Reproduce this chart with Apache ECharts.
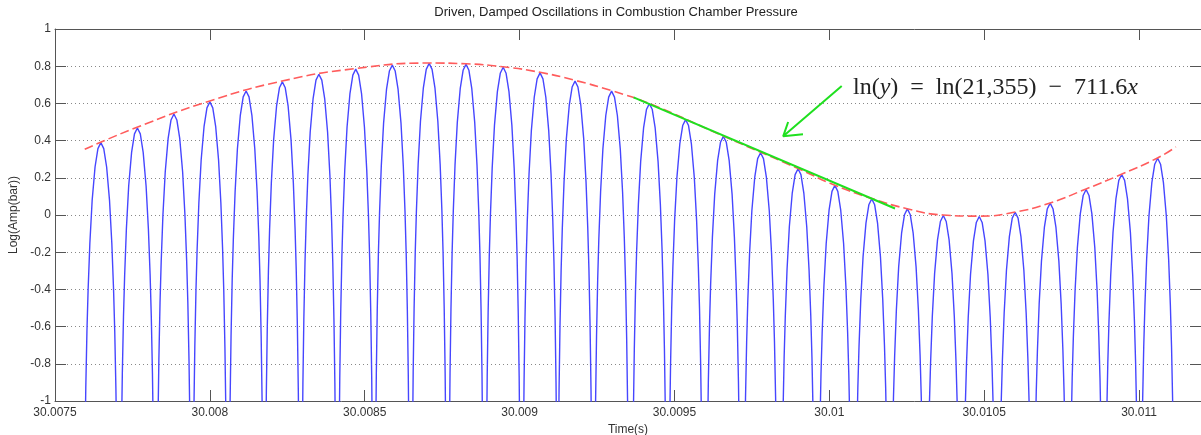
<!DOCTYPE html>
<html>
<head>
<meta charset="utf-8">
<script src="https://cdn.jsdelivr.net/npm/echarts@6/dist/echarts.min.js"></script>
<style>
  html, body { margin: 0; padding: 0; background: #fff; }
  #chart { width: 1201px; height: 435px; }
</style>
</head>
<body>
<div id="chart"></div>
<script>
// ============ 数据 ============
const titleText = 'Driven, Damped Oscillations in Combustion Chamber Pressure';
const xName = 'Time(s)';
const yName = 'Log(Amp(bar))';

// 每个拱形的峰值时间 / 峰值 ln(幅值)
const peakTimes = [
  30.007648, 30.007766, 30.007884, 30.008000, 30.008117, 30.008234, 30.008352, 30.008471,
  30.008589, 30.008708, 30.008827, 30.008947, 30.009066, 30.009179, 30.009297, 30.009419,
  30.009536, 30.009658, 30.009778, 30.009899, 30.010018, 30.010137, 30.010252, 30.010368,
  30.010484, 30.010600, 30.010713, 30.010829, 30.010944, 30.011060
];
const peakLogAmp = [
  0.389, 0.468, 0.543, 0.608, 0.667, 0.716, 0.757, 0.784,
  0.806, 0.815, 0.810, 0.794, 0.764, 0.720, 0.666, 0.599,
  0.513, 0.423, 0.335, 0.249, 0.159, 0.087, 0.033, -0.003,
  -0.008, 0.015, 0.064, 0.137, 0.218, 0.305
];
// 单个拱形的轮廓：距峰值的时间偏移(微秒) 与 相对峰值的下降量
const archDtUs = [0, 9.4, 18.7, 28.1, 35.5, 41.1, 44.9, 48.6, 51.6, 54.2, 56.9];
const archDrop = [0, -0.032, -0.131, -0.312, -0.542, -0.791, -1.015, -1.319, -1.663, -2.116, -2.98];

// 红色虚线包络
const envTimes = [
  30.007596, 30.007765, 30.008000, 30.008233, 30.008469, 30.008708, 30.008827, 30.008946,
  30.009066, 30.009179, 30.009298, 30.009421, 30.009657, 30.009899, 30.010018, 30.010138,
  30.010251, 30.010367, 30.010483, 30.010600, 30.010713, 30.010829, 30.010945, 30.011061,
  30.011119
];
const envValues = [
  0.353, 0.472, 0.613, 0.720, 0.787, 0.817, 0.813, 0.797,
  0.767, 0.724, 0.668, 0.598, 0.425, 0.250, 0.160, 0.088,
  0.034, 0.000, -0.006, 0.016, 0.065, 0.140, 0.220, 0.308,
  0.366
];

// 绿色拟合直线
const fitTimes = [30.009368, 30.010212];
const fitValues = [0.632, 0.035];

// 绿色箭头：起点 -> 尖端 -> 翼1，尖端 -> 翼2
const arrowTimes = [30.010040, 30.009851, 30.009867, 30.009851, 30.009915];
const arrowValues = [0.693, 0.423, 0.500, 0.423, 0.434];

const equationText = '{n|ln(}{i|y}{n|)  =  ln(21,355)  −  711.6}{i|x}';

// 坐标轴范围
const xMin = 30.0075, xMax = 30.0112, xStep = 0.0005;
const yMin = -1, yMax = 1, yStep = 0.2;

// ============ 构建 ============
function buildOscillation() {
  const pts = [];
  peakTimes.forEach((tp, i) => {
    const vp = peakLogAmp[i];
    for (let k = archDtUs.length - 1; k > 0; k--) pts.push([tp - archDtUs[k] * 1e-6, vp + archDrop[k]]);
    pts.push([tp, vp]);
    for (let k = 1; k < archDtUs.length; k++) pts.push([tp + archDtUs[k] * 1e-6, vp + archDrop[k]]);
  });
  return pts;
}

const zip = (a, b) => a.map((v, i) => [v, b[i]]);

const axisColor = '#555';
const labelFont = { fontFamily: 'Liberation Sans', fontSize: 12, color: '#333' };

const chart = echarts.init(document.getElementById('chart'), null, { renderer: 'canvas' });
chart.setOption({
  animation: false,
  backgroundColor: '#fff',
  grid: { left: 55, right: 0, top: 29, bottom: 34, outerBoundsMode: 'none' },
  xAxis: [{
    type: 'value', min: xMin, max: xMax, interval: xStep, position: 'bottom',
    axisLine: { show: true, onZero: false, lineStyle: { color: axisColor, width: 1 } },
    axisTick: { show: true, inside: true, length: 11, lineStyle: { color: axisColor } },
    axisLabel: { ...labelFont, margin: 6, showMaxLabel: false, formatter: v => String(parseFloat(v.toFixed(4))) },
    splitLine: { show: false },
    name: xName, nameLocation: 'middle', nameGap: 21,
    nameTextStyle: { ...labelFont }
  }, {
    type: 'value', min: xMin, max: xMax, interval: xStep, position: 'top',
    axisLine: { show: true, onZero: false, lineStyle: { color: axisColor, width: 1 } },
    axisTick: { show: true, inside: true, length: 11, lineStyle: { color: axisColor } },
    axisLabel: { show: false },
    splitLine: { show: false }
  }],
  yAxis: [{
    type: 'value', min: yMin, max: yMax, interval: yStep, position: 'left',
    axisLine: { show: true, onZero: false, lineStyle: { color: axisColor, width: 1 } },
    axisTick: { show: true, inside: true, length: 11, lineStyle: { color: axisColor } },
    axisLabel: { ...labelFont, margin: 4, formatter: v => String(parseFloat(v.toFixed(1))) },
    splitLine: { show: true, lineStyle: { type: [1, 3], color: '#888', width: 1 } },
    name: yName, nameLocation: 'middle', nameGap: 34, nameRotate: 90,
    nameTextStyle: { ...labelFont }
  }, {
    type: 'value', min: yMin, max: yMax, interval: yStep, position: 'right',
    axisLine: { show: true, onZero: false, lineStyle: { color: axisColor, width: 1 } },
    axisTick: { show: true, inside: true, length: 11, lineStyle: { color: axisColor } },
    axisLabel: { show: false },
    splitLine: { show: false }
  }],
  series: [{
    name: 'osc', type: 'line', xAxisIndex: 0, yAxisIndex: 0,
    data: buildOscillation(), showSymbol: false, symbol: 'none', clip: true,
    lineStyle: { color: '#4646ff', width: 1.4 }
  }, {
    name: 'envelope', type: 'line', data: zip(envTimes, envValues), smooth: true,
    symbol: 'none', clip: true,
    lineStyle: { color: '#ff5c5c', width: 1.6, type: [9, 4] }
  }, {
    name: 'fit', type: 'line', data: zip(fitTimes, fitValues), symbol: 'none',
    lineStyle: { color: '#1fe01f', width: 2 }
  }, {
    name: 'arrow', type: 'line', data: zip(arrowTimes, arrowValues), symbol: 'none',
    lineStyle: { color: '#1fe01f', width: 2 }
  }],
  graphic: [{
    type: 'text', x: 616, y: 12,
    style: { text: titleText, align: 'center', verticalAlign: 'middle', font: '13px "Liberation Sans"', fill: '#222' }
  }, {
    type: 'text', x: 853, y: 88,
    style: {
      text: equationText, verticalAlign: 'middle', fill: '#222',
      rich: {
        n: { fontFamily: 'Liberation Serif', fontSize: 24, fill: '#222' },
        i: { fontFamily: 'Liberation Serif', fontSize: 24, fontStyle: 'italic', fill: '#222' }
      }
    }
  }]
});
</script>
</body>
</html>
